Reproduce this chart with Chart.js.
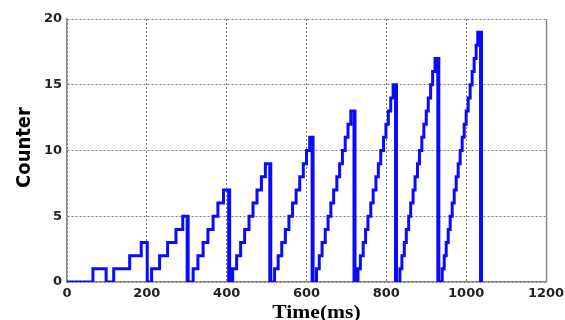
<!DOCTYPE html>
<html>
<head>
<meta charset="utf-8">
<script src="https://cdn.jsdelivr.net/npm/chart.js@4/dist/chart.umd.min.js"></script>
<style>
  html, body { margin: 0; padding: 0; background: #fff; }
</style>
</head>
<body>
<canvas id="myChart" width="565" height="320"></canvas>
<script>
// tick labels
const xTicks = [0, 200, 400, 600, 800, 1000, 1200];
const yTicks = [0, 5, 10, 15, 20];
const xTitle = 'Time(ms)';
const yTitle = 'Counter';

// counter samples, one pair of arrays per count-up burst (time in ms, counter value)
// the short 0/N/0 flicker at each reset is what makes the reset edges look thick
const burst1Times = [0, 65, 98, 117, 157, 186, 201];
const burst1Counts = [0, 1, 0, 1, 2, 3, 0];
const burst2Times = [212, 232, 252, 273, 290, 301, 302, 303.5];
const burst2Counts = [1, 2, 3, 4, 5, 0, 5, 0];
const burst3Times = [316, 328, 341, 353, 366, 378, 392, 405, 406, 407.5];
const burst3Counts = [1, 2, 3, 4, 5, 6, 7, 0, 7, 0];
const burst4Times = [415, 425, 435, 445, 456, 466, 476, 487, 497, 508, 509, 510.5];
const burst4Counts = [1, 2, 3, 4, 5, 6, 7, 8, 9, 0, 9, 0];
const burst5Times = [520, 529, 538, 547, 556, 565, 574, 583, 592, 600, 608, 614, 615, 616.5];
const burst5Counts = [1, 2, 3, 4, 5, 6, 7, 8, 9, 10, 11, 0, 11, 0];
const burst6Times = [625, 632, 639, 647, 654, 661, 668, 676, 683, 690, 697, 704, 711, 719, 720, 721.5];
const burst6Counts = [1, 2, 3, 4, 5, 6, 7, 8, 9, 10, 11, 12, 13, 0, 13, 0];
const burst7Times = [729, 735, 742, 748, 754, 761, 767, 774, 780, 786, 793, 799, 805, 811, 817, 823, 824, 825.5];
const burst7Counts = [1, 2, 3, 4, 5, 6, 7, 8, 9, 10, 11, 12, 13, 14, 15, 0, 15, 0];
const burst8Times = [834, 839, 845, 850, 856, 861, 867, 872, 878, 883, 889, 894, 900, 905, 911, 916, 922, 929, 930, 931.5];
const burst8Counts = [1, 2, 3, 4, 5, 6, 7, 8, 9, 10, 11, 12, 13, 14, 15, 16, 17, 0, 17, 0];
const burst9Times = [940, 945, 950, 955, 960, 965, 970, 975, 980, 985, 990, 995, 1000, 1005, 1010, 1015, 1020, 1025, 1029, 1036, 1037, 1038.5];
const burst9Counts = [1, 2, 3, 4, 5, 6, 7, 8, 9, 10, 11, 12, 13, 14, 15, 16, 17, 18, 19, 0, 19, 0];

const bursts = [
  [burst1Times, burst1Counts],
  [burst2Times, burst2Counts],
  [burst3Times, burst3Counts],
  [burst4Times, burst4Counts],
  [burst5Times, burst5Counts],
  [burst6Times, burst6Counts],
  [burst7Times, burst7Counts],
  [burst8Times, burst8Counts],
  [burst9Times, burst9Counts]
];

function buildPoints() {
  const points = [];
  bursts.forEach(([times, counts]) => {
    times.forEach((t, i) => {
      points.push({ x: t, y: counts[i] });
    });
  });
  return points;
}

// axis titles + the solid right edge of the box
const boxAndTitles = {
  id: 'boxAndTitles',
  afterDraw(chart) {
    const { ctx, chartArea } = chart;
    ctx.save();
    ctx.strokeStyle = '#8a8a8a';
    ctx.lineWidth = 1.5;
    ctx.beginPath();
    ctx.moveTo(chartArea.right + 0.5, chartArea.top);
    ctx.lineTo(chartArea.right + 0.5, chartArea.bottom);
    ctx.stroke();

    ctx.fillStyle = '#000';
    ctx.textAlign = 'center';
    ctx.textBaseline = 'middle';

    ctx.save();
    ctx.translate((chartArea.left + chartArea.right) / 2 + 10, 313);
    ctx.scale(1.2, 1);
    ctx.font = 'bold 18px "Liberation Serif", serif';
    ctx.fillText(xTitle, 0, 0);
    ctx.restore();

    ctx.save();
    ctx.translate(25, (chartArea.top + chartArea.bottom) / 2 - 3);
    ctx.rotate(-Math.PI / 2);
    ctx.font = 'bold 20px "Liberation Sans Narrow", "DejaVu Sans Condensed", sans-serif';
    ctx.fillText(yTitle, 0, 0);
    ctx.restore();
    ctx.restore();
  }
};

function initChart(canvas) {
  const tickFont = { family: '"DejaVu Sans", sans-serif', size: 13, weight: 'bold' };
  const config = {
    type: 'line',
    data: {
      datasets: [{
        data: buildPoints(),
        stepped: true,
        borderColor: '#0a0aff',
        borderWidth: 3,
        pointRadius: 0,
        fill: false
      }]
    },
    options: {
      responsive: false,
      animation: false,
      layout: { padding: { left: 0, right: 19, top: 19, bottom: 0 } },
      plugins: { legend: { display: false }, tooltip: { enabled: false } },
      scales: {
        x: {
          type: 'linear',
          min: 0,
          max: 1200,
          afterBuildTicks: (scale) => { scale.ticks = xTicks.map((v) => ({ value: v })); },
          afterFit: (scale) => {
            scale.height = 38;
            scale.paddingLeft = 0;
            scale.paddingRight = 0;
          },
          grid: { color: '#7a7a7a', lineWidth: 1, drawTicks: false },
          border: { display: true, color: '#8a8a8a', width: 1.5, dash: [2, 2] },
          ticks: { font: tickFont, color: '#222', padding: 4, maxRotation: 0, autoSkip: false, callback: (v) => String(v) }
        },
        y: {
          min: 0,
          max: 20,
          afterBuildTicks: (scale) => { scale.ticks = yTicks.map((v) => ({ value: v })); },
          afterFit: (scale) => {
            scale.width = 67;
            scale.paddingTop = 0;
            scale.paddingBottom = 0;
          },
          grid: { color: '#7a7a7a', lineWidth: 1, drawTicks: false },
          border: { display: true, color: '#8a8a8a', width: 1.5, dash: [2, 2] },
          ticks: { font: tickFont, color: '#222', padding: 5, callback: (v) => String(v) }
        }
      }
    },
    plugins: [boxAndTitles]
  };
  return new Chart(canvas, config);
}

document.addEventListener('DOMContentLoaded', () => {
  initChart(document.querySelector('#myChart'));
});
</script>
</body>
</html>
